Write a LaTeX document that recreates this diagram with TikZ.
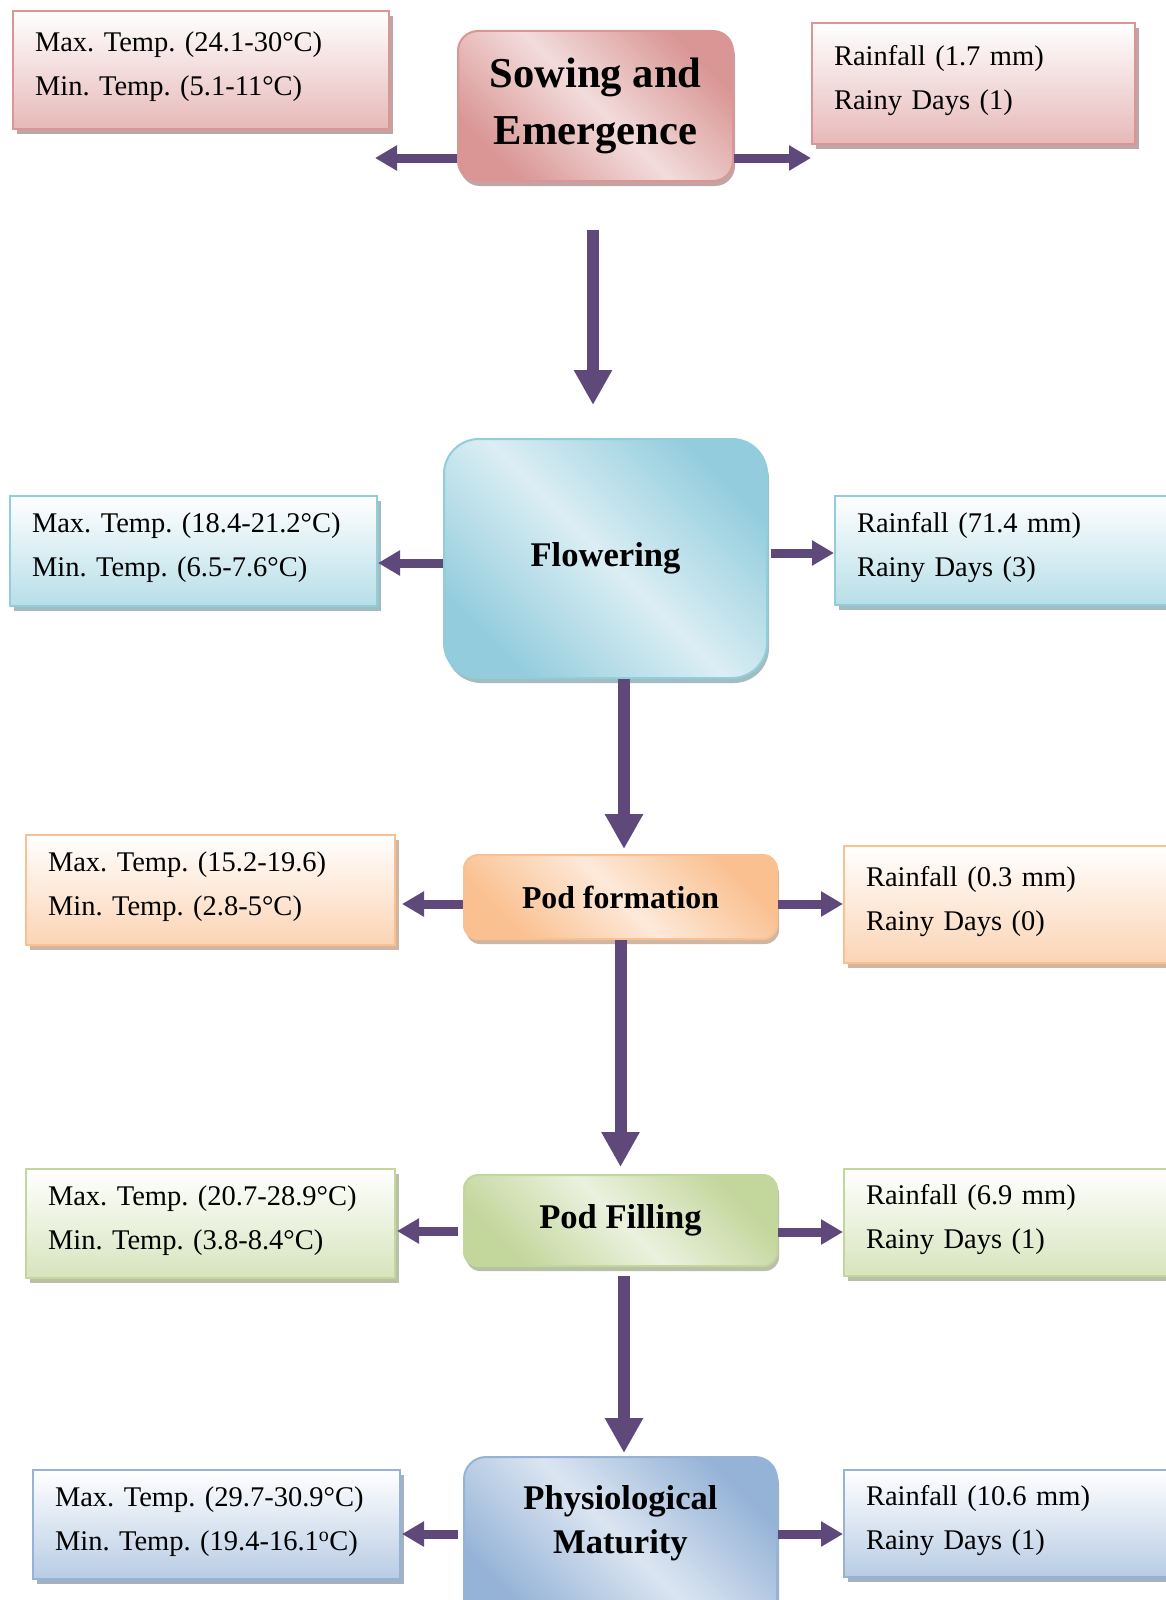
\documentclass[tikz,border=0pt]{standalone}
\usepackage{fontspec}
\setmainfont{Liberation Serif}
\usetikzlibrary{arrows.meta,shadows}

% Farben
\definecolor{pfeil}{HTML}{5F497A}
\definecolor{redB}{HTML}{D99694}
\definecolor{redD}{HTML}{D99694}
\definecolor{redL}{HTML}{F2DCDB}
\definecolor{redI}{HTML}{E6B9B8}
\definecolor{blueB}{HTML}{92CDDC}
\definecolor{blueD}{HTML}{93CDDD}
\definecolor{blueL}{HTML}{DBEEF4}
\definecolor{blueI}{HTML}{B7DEE8}
\definecolor{orangeB}{HTML}{FAC090}
\definecolor{orangeD}{HTML}{FAC090}
\definecolor{orangeL}{HTML}{FDE9D9}
\definecolor{orangeI}{HTML}{FBD4B4}
\definecolor{greenB}{HTML}{C3D69B}
\definecolor{greenD}{HTML}{C3D69B}
\definecolor{greenL}{HTML}{EBF1DE}
\definecolor{greenI}{HTML}{D7E4BD}
\definecolor{steelB}{HTML}{95B3D7}
\definecolor{steelD}{HTML}{95B3D7}
\definecolor{steelL}{HTML}{DBE5F1}
\definecolor{steelI}{HTML}{B8CCE4}

\tikzset{
	infobox/.style={draw=#1B, line width=2pt, top color=white, bottom color=#1I,
		drop shadow={shadow xshift=4pt, shadow yshift=-5pt, fill=#1B!70!black, opacity=.6},
		anchor=north west, align=left, inner xsep=21pt, inner ysep=0pt,
		font=\fontsize{28.5}{44}\selectfont\frenchspacing,
		execute at end node={\rule[-12pt]{0pt}{12pt}}},
	stage/.style={draw=#1B, line width=2pt, left color=#1D, right color=#1D, middle color=#1L,
		shading angle=135,
		drop shadow={shadow xshift=2pt, shadow yshift=-5pt, fill=#1B!70!black, opacity=.6},
		align=center, inner sep=0pt, font=\bfseries\fontsize{34.6}{44}\selectfont},
	sidearr/.style={draw=pfeil, line width=9pt, -{Triangle[length=22pt,width=24pt]}},
	downarr/.style={draw=pfeil, line width=12pt, -{Triangle[length=35pt,width=36pt]}}
}

\begin{document}
\begin{tikzpicture}[x=1pt,y=-1pt]
		\useasboundingbox (0,0) rectangle (1166,1600);
		\clip (0,0) rectangle (1166,1600);

		% zeichne Phasen
		\node[stage=red, minimum width=275pt, minimum height=150pt, rounded corners=20pt,
			font=\bfseries\fontsize{42.6}{57}\selectfont] (sow) at (595.5,106) {Sowing and\\Emergence};
		\node[stage=blue, minimum width=323pt, minimum height=239pt, rounded corners=35pt] (flw) at (605.5,558.5) {Flowering};
		\node[stage=orange, minimum width=313pt, minimum height=84pt, rounded corners=14pt,
			font=\bfseries\fontsize{31.8}{40}\selectfont] (podf) at (620.5,897) {Pod formation};
		\node[stage=green, minimum width=313pt, minimum height=91pt, rounded corners=14pt] (podg) at (620.5,1220.5) {Pod Filling};
		\node[stage=steel, minimum width=313pt, minimum height=163pt, rounded corners=22pt] (mat) at (620.5,1538.5) {};
		\node[align=center, font=\bfseries\fontsize{34.6}{44}\selectfont] (matT) at ([yshift=15.5pt]mat.center) {Physiological\\Maturity};

		% zeichne Temperaturen und Regen
		\node[infobox=red, minimum width=376pt, minimum height=118pt, text width=332pt] (sowL) at (12,10)
			{Max. Temp. (24.1-30°C)\\Min. Temp. (5.1-11°C)};
		\node[infobox=red, minimum width=323pt, minimum height=121pt, text width=279pt] (sowR) at (811,22)
			{Rainfall (1.7 mm)\\Rainy Days (1)};
		\node[infobox=blue, minimum width=367pt, minimum height=110pt, text width=323pt] (flwL) at (9,495)
			{Max. Temp. (18.4-21.2°C)\\Min. Temp. (6.5-7.6°C)};
		\node[infobox=blue, minimum width=360pt, minimum height=109pt, text width=316pt] (flwR) at (834,495)
			{Rainfall (71.4 mm)\\Rainy Days (3)};
		\node[infobox=orange, minimum width=369pt, minimum height=110pt, text width=325pt] (podfL) at (25,834)
			{Max. Temp. (15.2-19.6)\\Min. Temp. (2.8-5°C)};
		\node[infobox=orange, minimum width=350pt, minimum height=117pt, text width=306pt] (podfR) at (843,845)
			{Rainfall (0.3 mm)\\Rainy Days (0)};
		\node[infobox=green, minimum width=369pt, minimum height=109pt, text width=325pt] (podgL) at (25,1168)
			{Max. Temp. (20.7-28.9°C)\\Min. Temp. (3.8-8.4°C)};
		\node[infobox=green, minimum width=350pt, minimum height=107pt, text width=306pt] (podgR) at (843,1168)
			{Rainfall (6.9 mm)\\Rainy Days (1)};
		\node[infobox=steel, minimum width=367pt, minimum height=109pt, text width=323pt] (matL) at (32,1469)
			{Max. Temp. (29.7-30.9°C)\\Min. Temp. (19.4-16.1\textsuperscript{o}C)};
		\node[infobox=steel, minimum width=350pt, minimum height=107pt, text width=306pt] (matR) at (843,1469)
			{Rainfall (10.6 mm)\\Rainy Days (1)};

		% zeichne Pfeile
		\coordinate (sowLt) at (375,158);
		\coordinate (sowRt) at (811,158);
		\coordinate (d1a) at (593,230);
		\coordinate (d1b) at (593,405);
		\draw[sidearr] (sow.west |- sowLt) -- (sowLt);
		\draw[sidearr] (sow.east |- sowRt) -- (sowRt);
		\draw[downarr] (d1a) -- (d1b);

		\draw[sidearr] ([yshift=-4.5pt]flw.west) -- ([yshift=-4.5pt]flw.west -| flwL.east);
		\draw[sidearr] ([xshift=3pt,yshift=5.5pt]flw.east) -- ([yshift=5.5pt]flw.east -| flwR.west);
		\draw[downarr] ([xshift=18.5pt]flw.south) -- ([xshift=3.5pt,yshift=5pt]podf.north);

		\draw[sidearr] ([yshift=-7pt]podf.west) -- ([xshift=6pt,yshift=-7pt]podf.west -| podfL.east);
		\draw[sidearr] ([yshift=-7pt]podf.east) -- ([yshift=-7pt]podf.east -| podfR.west);
		\draw[downarr] (podf.south) -- ([yshift=7pt]podg.north);

		\draw[sidearr] ([xshift=-5pt,yshift=-10.5pt]podg.west) -- ([xshift=1pt,yshift=-10.5pt]podg.west -| podgL.east);
		\draw[sidearr] ([yshift=-11.5pt]podg.east) -- ([yshift=-11.5pt]podg.east -| podgR.west);
		\draw[downarr] ([xshift=3.5pt,yshift=-9pt]podg.south) -- ([xshift=3.5pt,yshift=3pt]mat.north);

		\draw[sidearr] ([xshift=-5pt,yshift=4.5pt]mat.west) -- ([xshift=1pt,yshift=4.5pt]mat.west -| matL.east);
		\draw[sidearr] ([yshift=4.5pt]mat.east) -- ([yshift=4.5pt]mat.east -| matR.west);
	\end{tikzpicture}
\end{document}
